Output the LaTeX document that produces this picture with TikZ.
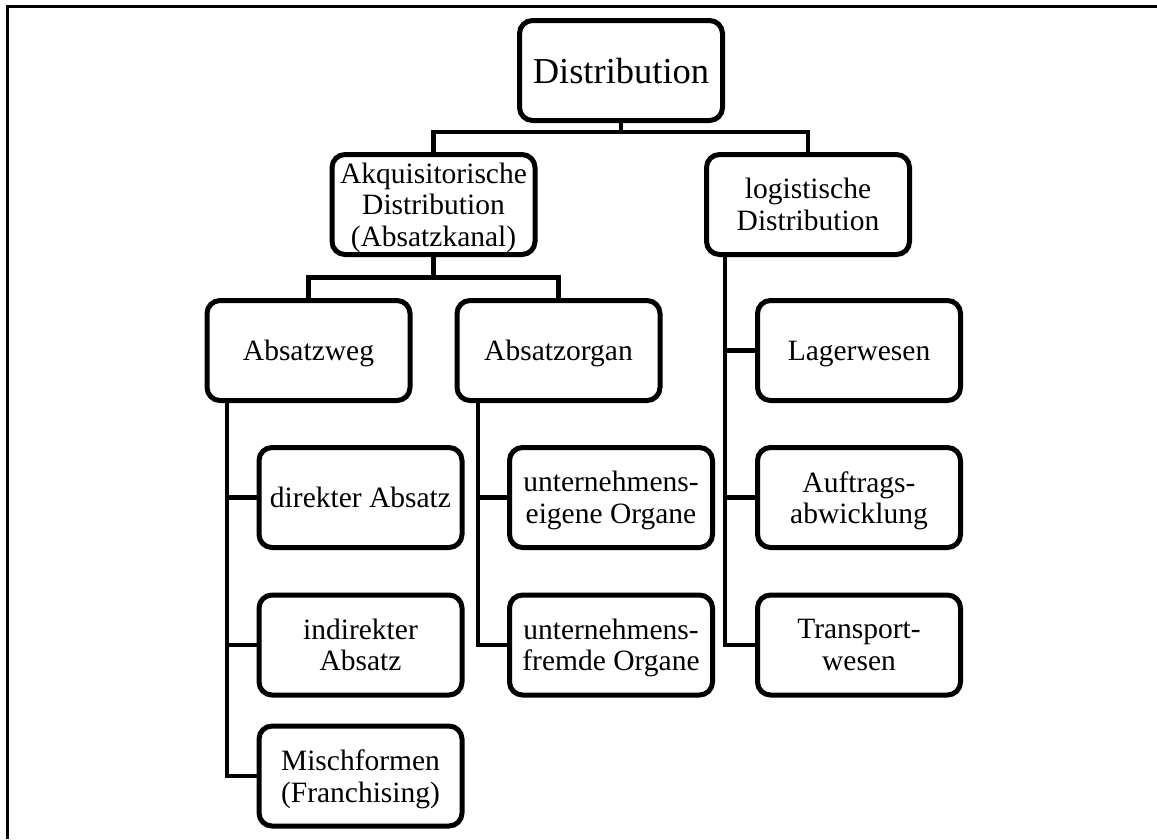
\documentclass[tikz,border=0pt]{standalone}
\usepackage{fontspec}
\setmainfont{Liberation Serif}
\begin{document}
\begin{tikzpicture}[x=1pt, y=-1pt,
  box/.style={draw=black, line width=5pt, rounded corners=13pt, fill=white,
    minimum width=203pt, minimum height=100pt, inner sep=0pt, align=center,
    text depth=0pt, font=\fontsize{29.5}{31.5}\selectfont},
  bigbox/.style={box, font=\fontsize{36.5}{40}\selectfont},
  link/.style={line width=4.5pt, line cap=rect}]
  \useasboundingbox (0,0) rectangle (1157,839);

  % frame
  \draw[line width=3pt] (7.5,839) -- (7.5,6) -- (1157,6);

  % level 0 and 1
  \node[bigbox] (dist) at (621,70.5) {Distribution};
  \node[box] (akq) at (433.5,204.5) {Akquisitorische\\Distribution\\(Absatzkanal)};
  \node[box] (log) at (808,204.5) {logistische\\Distribution};

  % level 2
  \node[box] (weg)   at (308.5,350.5) {Absatzweg};
  \node[box] (organ) at (558.5,350.5) {Absatzorgan};

  % leaves: Absatzweg
  \node[box] (direkt)   at (360.5,497.5) {direkter Absatz};
  \node[box] (indirekt) at (360.5,645)   {indirekter\\Absatz};
  \node[box] (misch)    at (360.5,776)   {Mischformen\\(Franchising)};

  % leaves: Absatzorgan
  \node[box] (eigen) at (611,497.5) {unternehmens-\\eigene Organe};
  \node[box] (fremd) at (611,645)   {unternehmens-\\fremde Organe};

  % leaves: logistische Distribution
  \node[box] (lager) at (859,350.5) {Lagerwesen};
  \node[box] (auftr) at (859,497.5) {Auftrags-\\abwicklung};
  \node[box] (trans) at (859,645)   {Transport-\\wesen};

  % junction points
  \coordinate (b1) at (621,132);
  \coordinate (b2) at (433.5,277.5);
  \coordinate (wx) at (227,0);
  \coordinate (ox) at (478,0);
  \coordinate (lx) at (725,0);

  \begin{scope}[link]
    \draw (dist.south) -- (b1);
    \draw (akq.north) |- (b1) -| (log.north);
    \draw (akq.south) -- (b2);
    \draw (weg.north) |- (b2) -| (organ.north);

    \draw (weg.south -| wx) |- (misch.west);
    \draw (direkt.west -| wx) -- (direkt.west);
    \draw (indirekt.west -| wx) -- (indirekt.west);

    \draw (organ.south -| ox) |- (fremd.west);
    \draw (eigen.west -| ox) -- (eigen.west);

    \draw (log.south -| lx) |- (trans.west);
    \draw (lager.west -| lx) -- (lager.west);
    \draw (auftr.west -| lx) -- (auftr.west);
  \end{scope}
\end{tikzpicture}
\end{document}
